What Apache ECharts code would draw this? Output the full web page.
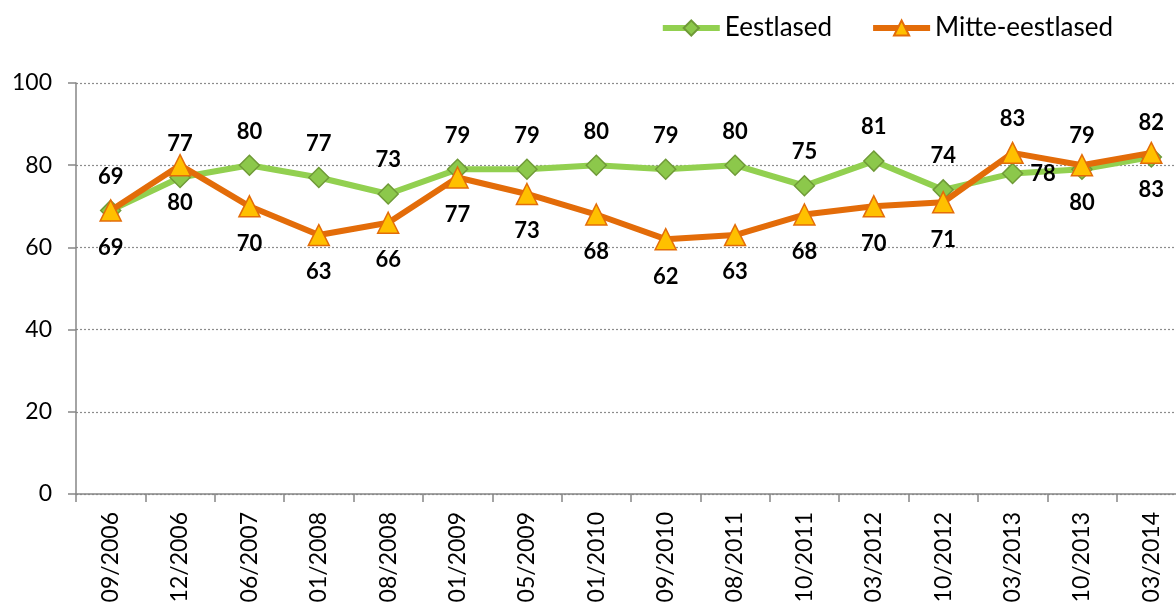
<!DOCTYPE html>
<html><head><meta charset="utf-8">
<script src="https://cdn.jsdelivr.net/npm/echarts@6/dist/echarts.min.js"></script>
<style>html,body{margin:0;padding:0;background:#fff}#c{width:1176px;height:603px}</style>
</head><body><div id="c"></div>
<script>
var categories = ['09/2006','12/2006','06/2007','01/2008','08/2008','01/2009','05/2009','01/2010','09/2010','08/2011','10/2011','03/2012','10/2012','03/2013','10/2013','03/2014'];
var eestlased = [69, 77, 80, 77, 73, 79, 79, 80, 79, 80, 75, 81, 74, 78, 79, 82];
var mitteEestlased = [69, 80, 70, 63, 66, 77, 73, 68, 62, 63, 68, 70, 71, 83, 80, 83];
var yTicks = [0, 20, 40, 60, 80, 100];

var FONT = 'Lato';
var labelBase = {show: true, fontFamily: FONT, fontWeight: 'bold', fontSize: 22, color: '#000'};

function buildData(vals, special) {
  return vals.map(function (v, i) {
    if (special && special[i]) return {value: v, label: special[i]};
    return v;
  });
}

var chart = echarts.init(document.getElementById('c'), null, {renderer: 'canvas'});
chart.setOption({
  animation: false,
  backgroundColor: '#fff',
  legend: {
    top: 10, right: 58,
    itemWidth: 57, itemHeight: 19, itemGap: 38,
    textStyle: {fontFamily: FONT, fontSize: 26, color: '#000'},
    data: [
      {name: 'Eestlased', lineStyle: {width: 6}},
      {name: 'Mitte-eestlased', lineStyle: {width: 6}}
    ]
  },
  grid: {left: 76, right: -10, top: 83, bottom: 109, containLabel: false, outerBoundsMode: 'none'},
  xAxis: {
    type: 'category', data: categories, boundaryGap: true,
    axisLine: {lineStyle: {color: '#868686', width: 1.5}},
    axisTick: {show: true, length: 8, alignWithLabel: false, lineStyle: {color: '#868686', width: 1.5}},
    axisLabel: {rotate: 90, margin: 18, fontFamily: FONT, fontSize: 23, color: '#000', interval: 0}
  },
  yAxis: {
    type: 'value', min: 0, max: 100, interval: 20,
    axisLine: {show: true, lineStyle: {color: '#868686', width: 1.5}},
    axisTick: {show: true, length: 8, lineStyle: {color: '#868686', width: 1.5}},
    axisLabel: {margin: 24, fontFamily: FONT, fontSize: 23, color: '#000',
      formatter: function (v) { return yTicks.indexOf(v) >= 0 ? String(v) : ''; }},
    splitLine: {show: true, lineStyle: {color: '#8c8c8c', type: [2, 2], width: 1.2}}
  },
  series: [
    {
      name: 'Eestlased', type: 'line',
      data: buildData(eestlased, {13: {position: 'right', distance: 7}}),
      symbol: 'diamond', symbolSize: 20,
      lineStyle: {color: '#92D050', width: 6},
      itemStyle: {color: '#8CC84B', borderColor: '#6F9A37', borderWidth: 1.5},
      label: Object.assign({position: 'top', distance: 12}, labelBase),
      z: 2
    },
    {
      name: 'Mitte-eestlased', type: 'line',
      data: buildData(mitteEestlased, {13: {position: 'top', distance: 12}}),
      symbol: 'triangle', symbolSize: 21,
      lineStyle: {color: '#E36C09', width: 6},
      itemStyle: {color: '#FFC000', borderColor: '#E36C09', borderWidth: 1.5},
      label: Object.assign({position: 'bottom', distance: 15}, labelBase),
      z: 3
    }
  ]
});
</script></body></html>
